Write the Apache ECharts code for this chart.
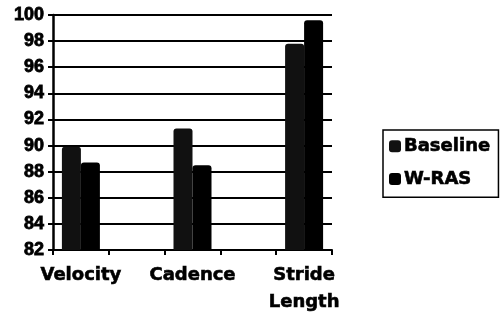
<!DOCTYPE html>
<html>
<head>
<meta charset="utf-8">
<script src="https://cdn.jsdelivr.net/npm/echarts@6/dist/echarts.min.js"></script>
<style>
html,body{margin:0;padding:0;background:#fff;}
#main{width:502px;height:320px;}
</style>
</head>
<body>
<div id="main"></div>
<script>
var categories = ['Velocity', 'Cadence', 'Stride\nLength'];
var baseline = [89.9, 91.3, 97.8];
var wras = [88.7, 88.5, 99.6];
var yTicks = [82, 84, 86, 88, 90, 92, 94, 96, 98, 100];

/*category slots with empty gaps between, as in the original axis*/
function spread(arr, blank){
	var out = [];
	for(var i = 0;i<arr.length;i++){
		if(i > 0) out.push(blank);
		out.push(arr[i]);
	}
	return out;
}

var myChart = echarts.init(document.getElementById('main'));
var option = {
	animation: false,
	backgroundColor: '#fff',
	grid: {left: 53, right: 170, top: 15, bottom: 70},
	legend: {
		orient: 'vertical',
		left: 383,
		top: 130,
		padding: [7, 8, 9, 6],
		itemGap: 14,
		itemWidth: 12,
		itemHeight: 12,
		borderColor: '#000',
		borderWidth: 1.5,
		icon: 'roundRect',
		textStyle: {fontFamily: 'DejaVu Sans', fontWeight: 'bold', fontSize: 18, color: '#000', padding: [0, 0, 0, -2], textBorderColor: '#000', textBorderWidth: 0.6}
	},
	xAxis: {
		type: 'category',
		data: spread(categories, ''),
		axisLine: {lineStyle: {color: '#000', width: 2}},
		axisTick: {show: true, length: 5, lineStyle: {color: '#000', width: 2}},
		axisLabel: {
			interval: 0,
			margin: 12,
			color: '#000',
			fontFamily: 'DejaVu Sans',
			fontWeight: 'bold',
			fontSize: 18,
			lineHeight: 27,
			textBorderColor: '#000',
			textBorderWidth: 0.6
		}
	},
	yAxis: {
		type: 'value',
		min: yTicks[0],
		max: yTicks[yTicks.length - 1],
		interval: 2,
		axisLine: {show: true, lineStyle: {color: '#000', width: 2.5}},
		axisTick: {show: true, length: 5, lineStyle: {color: '#000', width: 2}},
		axisLabel: {margin: 9, color: '#000', fontFamily: 'Liberation Sans', fontWeight: 'bold', fontSize: 18, textBorderColor: '#000', textBorderWidth: 0.8},
		splitLine: {show: true, lineStyle: {color: '#000', width: 2}}
	},
	series: [
		{
			name: 'Baseline',
			type: 'bar',
			barWidth: 19,
			barGap: '0%',
			data: spread(baseline, '-'),
			itemStyle: {color: '#111', borderRadius: [3, 3, 0, 0]}
		},
		{
			name: 'W-RAS',
			type: 'bar',
			barWidth: 19,
			data: spread(wras, '-'),
			itemStyle: {color: '#000', borderRadius: [3, 3, 0, 0]}
		}
	]
};
myChart.setOption(option);
</script>
</body>
</html>
